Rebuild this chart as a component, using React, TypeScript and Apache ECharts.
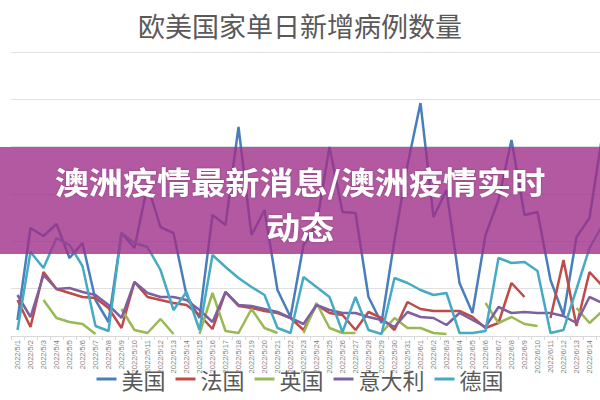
import React, { useEffect, useRef } from "react";
import * as echarts from "echarts";

const categories = [
  "2022/5/1", "2022/5/2", "2022/5/3", "2022/5/4", "2022/5/5", "2022/5/6", "2022/5/7", "2022/5/8",
  "2022/5/9", "2022/5/10", "2022/5/11", "2022/5/12", "2022/5/13", "2022/5/14", "2022/5/15", "2022/5/16",
  "2022/5/17", "2022/5/18", "2022/5/19", "2022/5/20", "2022/5/21", "2022/5/22", "2022/5/23", "2022/5/24",
  "2022/5/25", "2022/5/26", "2022/5/27", "2022/5/28", "2022/5/29", "2022/5/30", "2022/5/31", "2022/6/1",
  "2022/6/2", "2022/6/3", "2022/6/4", "2022/6/5", "2022/6/6", "2022/6/7", "2022/6/8", "2022/6/9",
  "2022/6/10", "2022/6/11", "2022/6/12", "2022/6/13", "2022/6/14", "2022/6/15",
];

const seriesNames = ["美国", "法国", "英国", "意大利", "德国"];

const usa = [6760, 45630, 42250, 47320, 32960, 39290, 15210, 5920, 43520, 37180, 63800, 46050, 43520, 17320, 7610, 51120, 46900, 88300, 42670, 53240, 19440, 8030, 38450, 46900, 79850, 52390, 51970, 16480, 5490, 40560, 72250, 98440, 50280, 61700, 22390, 9720, 42670, 57460, 82810, 51120, 52390, 23660, 8870, 41830, 49860, 85350];
const france = [15210, 3800, 27040, 19860, 18170, 16480, 16060, 11830, 3380, 22820, 16480, 15210, 13940, 13100, 8870, 2960, 18590, 12680, 11830, 10560, 9720, 7610, 2540, 13100, 9720, 8870, 2540, 10140, 7610, 2540, 14370, 11410, 10560, 10560, 10560, 8030, 3380, 5490, 22390, 16480, null, 7610, 32110, 4230, 27040, 21130];
const uk = [null, null, 15210, 7610, 5920, 5070, 850, null, 11410, 2540, 1270, 7180, 850, null, 850, 18170, 2110, 1270, 11410, 3380, 1270, null, 1270, 13940, 3380, 1270, 1270, null, 1270, 7610, 3380, 3380, 1270, 850, null, null, 13940, 5490, 8030, 5070, 4230, null, null, 11830, 5490, 10560];
const italy = [17320, 8030, 25770, 19860, 20280, 18590, 17320, 13100, 7610, 22820, 18170, 16480, 16480, 15210, 10990, 5920, 18590, 13100, 12680, 11410, 10140, 7610, 5070, 13100, 10990, 9720, 9720, 8030, 6760, 3800, 10140, 8030, 7610, 4650, 9720, 6760, 3800, 12250, 9720, 10140, 9720, 9720, 8450, 5490, 16480, 13940];
const germany = [2540, 35490, 28730, 41410, 38450, 29580, 4230, 2110, 43520, 39290, 37600, 27890, 10990, 18590, 2540, 34220, 29150, 24510, 20700, 17320, 3380, 1270, 24930, 20700, 16480, 1690, 16480, 2540, 850, 24510, 22390, 19440, 17320, 18170, 1270, 1270, 2110, 32960, 30840, 31270, 27460, 1270, 2540, 19860, 37180, 46900];

const colors = ["#4a7ebb", "#be4b48", "#98b954", "#7d60a0", "#46aac5"];

const titleText = "欧美国家单日新增病例数量";
const bannerLine1 = "澳洲疫情最新消息/澳洲疫情实时";
const bannerLine2 = "动态";

export default function App() {
  const ref = useRef<HTMLDivElement>(null);
  useEffect(() => {
    if (!ref.current) return;
    const chart = echarts.init(ref.current, undefined, { renderer: "svg" });
    const allData = [usa, france, uk, italy, germany];
    const lastIdx = categories.length - 1;
    const bannerStyle = {
      fill: "#ffffff",
      fontSize: 31,
      fontWeight: "bold",
      fontFamily: "Noto Sans CJK SC",
      align: "center",
      verticalAlign: "middle",
      textAlign: "center",
      textVerticalAlign: "middle",
      textShadowColor: "rgba(0,0,0,0.25)",
      textShadowBlur: 2,
    };
    chart.setOption({
      animation: false,
      backgroundColor: "#ffffff",
      color: colors,
      title: {
        text: titleText,
        left: "center",
        top: 7,
        textStyle: {
          color: "#595959",
          fontSize: 27,
          fontWeight: "normal",
          fontFamily: "Noto Sans CJK SC",
        },
      },
      legend: {
        data: seriesNames,
        bottom: 5,
        left: "center",
        icon: "rect",
        itemWidth: 20,
        itemHeight: 3,
        itemGap: 10,
        textStyle: { color: "#595959", fontSize: 22, fontFamily: "Noto Sans CJK SC" },
      },
      grid: {
        left: 11,
        right: -9,
        top: 52,
        bottom: 64,
        containLabel: false,
        outerBoundsMode: "none",
      },
      xAxis: {
        type: "category",
        data: categories,
        boundaryGap: true,
        axisLine: { lineStyle: { color: "#d9d9d9", width: 1 } },
        axisTick: { show: true, length: 4, lineStyle: { color: "#d9d9d9" } },
        axisLabel: {
          interval: 0,
          rotate: 90,
          fontSize: 7.5,
          margin: 4,
          color: "#7f7f7f",
          fontFamily: "Liberation Sans",
          formatter: (v: string, i: number) => (i === lastIdx ? "" : v),
        },
      },
      yAxis: {
        type: "value",
        min: 0,
        max: 120000,
        interval: 20000,
        axisLabel: { show: false },
        axisLine: { show: false },
        axisTick: { show: false },
        splitLine: { lineStyle: { color: "#e0e0e0", width: 1 } },
      },
      series: seriesNames.map((name, k) => ({
        name,
        type: "line",
        data: allData[k],
        symbol: "none",
        connectNulls: false,
        lineStyle: { width: 2.5, color: colors[k] },
        itemStyle: { color: colors[k] },
      })),
      graphic: [
        {
          type: "rect",
          z: 100,
          shape: { x: 0, y: 147, width: 600, height: 107 },
          style: { fill: "rgba(160,48,138,0.8)" },
        },
        {
          type: "text",
          z: 101,
          x: 300,
          y: 180,
          scaleX: 1.1,
          style: { ...bannerStyle, text: bannerLine1 },
        },
        {
          type: "text",
          z: 101,
          x: 300,
          y: 225,
          scaleX: 1.1,
          style: { ...bannerStyle, text: bannerLine2 },
        },
      ],
    });
    return () => chart.dispose();
  }, []);
  return (
    <div
      ref={ref}
      style={{ position: "fixed", left: 0, top: 0, width: 600, height: 400, background: "#fff" }}
    />
  );
}
